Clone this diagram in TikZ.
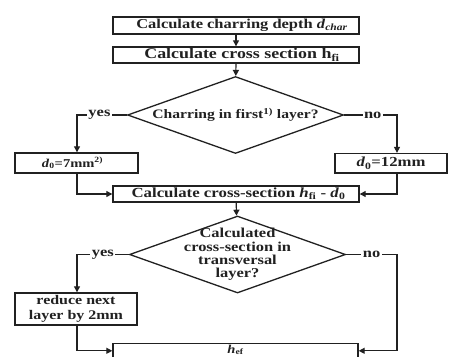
\documentclass[tikz,border=0pt]{standalone}
\usepackage{fontspec}
\setmainfont{Liberation Serif}[FakeStretch=1.21]
\usetikzlibrary{arrows.meta,shapes.geometric}
\newcommand{\fs}[1]{\fontsize{#1}{#1}\selectfont\bfseries}
\definecolor{ink}{gray}{0.13}
\begin{document}
\begin{tikzpicture}[x=1pt,y=1pt, every node/.style={text=ink},
  box/.style={draw=ink, line width=1.4pt, inner sep=0pt, align=center},
  dec/.style={draw=ink, diamond, line width=1.3pt, inner sep=0pt,
              minimum width=216pt, minimum height=77pt},
  dectext/.style={inner sep=0pt, align=center},
  conn/.style={draw=ink, line width=1.2pt},
  arr/.style={conn, -{Triangle[length=6pt,width=6pt]}},
  lab/.style={font=\fs{13.6}, fill=white, inner sep=1.5pt}
]
\clip (0,0) rectangle (449,-356);
\fill[white] (0,0) rectangle (449,-356);

\node[box, minimum width=246pt, minimum height=17pt, font=\fs{13.6}] (b1) at (236,-25.5)
  {\hspace*{12pt}Calculate charring depth \textit{d}\textsubscript{\textit{char}}};
\node[box, minimum width=246pt, minimum height=16pt, font=\fs{14.8}] (b2) at (236,-55)
  {\hspace*{12pt}Calculate cross section h\textsubscript{fi}};
\node[dec] (d1) at (235.5,-115) {};
\node[dectext, font=\fs{12.9}] (d1t) at (d1) {Charring in first\textsuperscript{1)} layer?};
\node[box, minimum width=123pt, minimum height=20pt, text width=119pt, font=\fs{12}] (l1) at (76.5,-163)
  {\textit{d}\textsubscript{0}=7mm\textsuperscript{2)}\hspace*{8pt}};
\node[box, minimum width=112pt, minimum height=19.5pt, font=\fs{13.8}] (r1) at (391,-163.3)
  {\textit{d}\textsubscript{0}=12mm};
\node[box, minimum width=246pt, minimum height=16pt, font=\fs{13.9}] (b3) at (236,-194)
  {\hspace*{5pt}Calculate cross-section \textit{h}\textsubscript{fi} - \textit{d}\textsubscript{0}};
\node[dec] (d2) at (237.5,-254.5) {};
\node[dectext, font=\fontsize{13.6}{13.3}\selectfont\bfseries] (d2t) at (d2)
  {Calculated\\cross-section in\\transversal\\layer?};
\node[box, minimum width=122pt, minimum height=32pt,
      font=\fontsize{13.2}{15}\selectfont\bfseries] (l2) at (76,-309)
  {reduce next\\layer by 2mm};
\node[box, minimum width=245pt, minimum height=20pt, font=\fs{12}] (fin) at (235.5,-353.5)
  {\raisebox{0.5pt}[0pt][0pt]{\textit{h}\textsubscript{ef}}};

\coordinate (t1) at (77,-115);
\coordinate (t2) at (397,-115);
\coordinate (t3) at (77,-254.5);
\coordinate (t4) at (397,-254.5);
\coordinate (fw) at ([yshift=-8pt]fin.north west);
\coordinate (fe) at ([yshift=-8pt]fin.north east);

\draw[arr] (b1) -- (b2);
\draw[arr] (b2) -- (d1);
\draw[arr] (d1.west) -- node[lab, pos=0.55]{yes} (t1) -- (t1 |- l1.north);
\draw[arr] (d1.east) -- node[lab, pos=0.54]{no} (t2) -- (t2 |- r1.north);
\draw[arr] (t1 |- l1.south) -- (t1 |- b3.west) -- (b3.west);
\draw[arr] (t2 |- r1.south) -- (t2 |- b3.east) -- (b3.east);
\draw[arr] (b3) -- (d2);
\draw[arr] (d2.west) -- node[lab, pos=0.5]{yes} (t3) -- (t3 |- l2.north);
\draw[arr] (d2.east) -- node[lab, pos=0.5]{no} (t4) -- (t4 |- fe) -- (fe);
\draw[arr] (t3 |- l2.south) -- (t3 |- fw) -- (fw);
\end{tikzpicture}
\end{document}
